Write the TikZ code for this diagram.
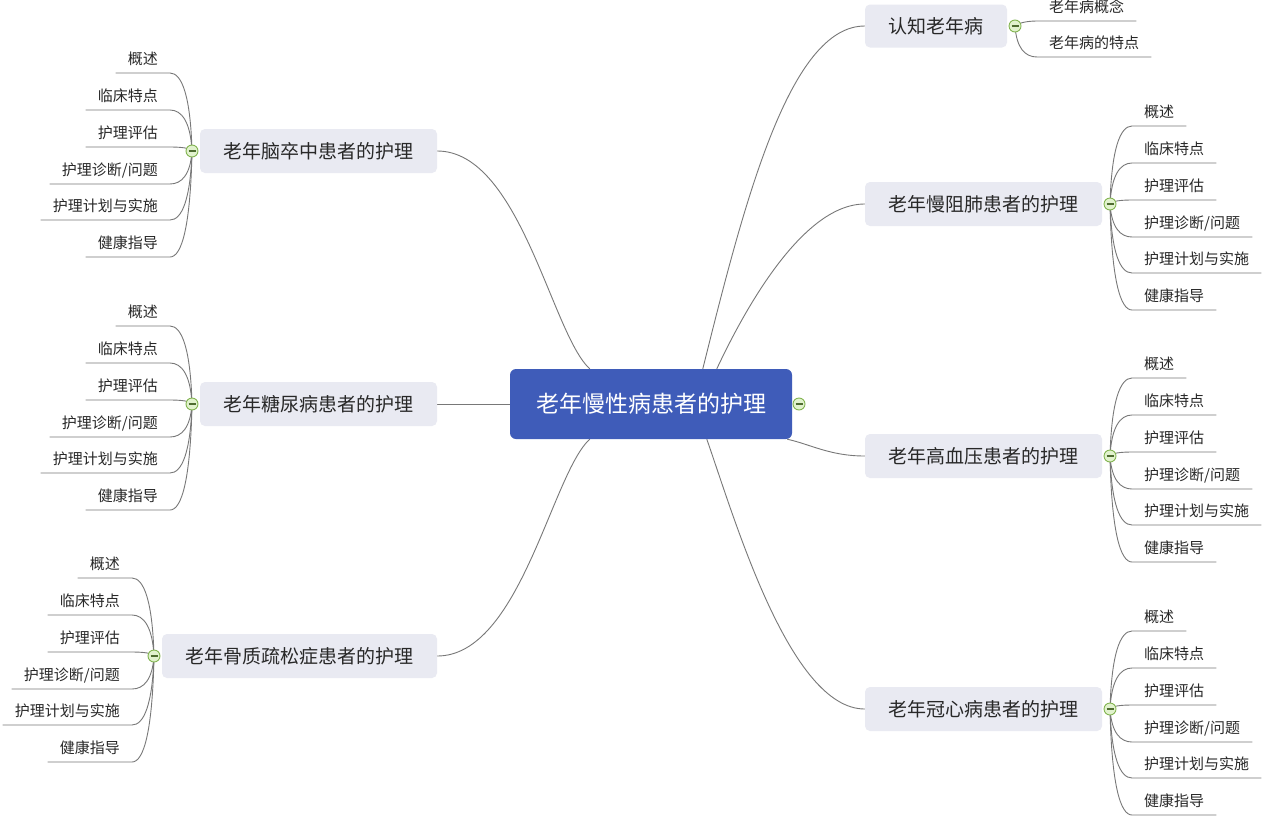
\documentclass[tikz,border=0pt]{standalone}
\usepackage{fontspec}
\newfontfamily\cjk{Noto Sans CJK SC}
\usetikzlibrary{calc}
\definecolor{linegray}{RGB}{120,120,120}
\definecolor{topicfill}{RGB}{233,234,242}
\definecolor{centralblue}{RGB}{63,92,185}
\definecolor{textgray}{RGB}{40,40,40}
\definecolor{folddraw}{RGB}{130,180,80}
\definecolor{foldfill}{RGB}{225,242,205}
\pgfdeclarelayer{bg}
\pgfdeclarelayer{paper}
\pgfsetlayers{paper,bg,main}
\newcommand\leavesR[2]{%
  \foreach \t/\d [count=\i] in {概述/-78,临床特点/-41,护理评估/-4,{护理诊断/问题}/33,护理计划与实施/69,健康指导/106}{
    \node[leafR] (#1\i) at ($(#2)+(22,\d)$) {\t};
    \begin{pgfonlayer}{bg}
    \draw[ln] (#2.center) .. controls +(1.5,{0.7*(\d)}) and +(-12,0) .. (#1\i.south west) -- (#1\i.south east);
    \end{pgfonlayer}
  }}
\newcommand\leavesL[2]{%
  \foreach \t/\d [count=\i] in {概述/-78,临床特点/-41,护理评估/-4,{护理诊断/问题}/33,护理计划与实施/69,健康指导/106}{
    \node[leafL] (#1\i) at ($(#2)+(-22,\d)$) {\t};
    \begin{pgfonlayer}{bg}
    \draw[ln] (#2.center) .. controls +(-1.5,{0.7*(\d)}) and +(12,0) .. (#1\i.south east) -- (#1\i.south west);
    \end{pgfonlayer}
  }}
\begin{document}
\begin{tikzpicture}[x=1pt,y=-1pt,
  ln/.style={draw=linegray, line width=0.9pt},
  topic/.style={fill=topicfill, rounded corners=5pt, minimum height=44pt, inner sep=0pt, font=\cjk\fontsize{19}{19}\selectfont, text=textgray},
  central/.style={fill=centralblue, rounded corners=6pt, minimum width=282pt, minimum height=70pt, inner sep=0pt, font=\cjk\fontsize{23}{23}\selectfont, text=white},
  leafR/.style={anchor=south west, inner xsep=12pt, inner ysep=5pt, text height=12pt, text depth=3pt, font=\cjk\fontsize{15}{15}\selectfont, text=textgray},
  leafL/.style={leafR, anchor=south east},
  fold/.style={circle, draw=folddraw, fill=foldfill, line width=0.9pt, minimum size=12pt, inner sep=0pt,
    path picture={\draw[folddraw!60!black, line width=1.1pt] ([xshift=-3.5pt]path picture bounding box.center) -- ([xshift=3.5pt]path picture bounding box.center);}}
]
\begin{pgfonlayer}{paper}
\fill[white] (0,0) rectangle (1265,817);
\end{pgfonlayer}
\useasboundingbox (0,0) rectangle (1265,817);

% central
\node[central] (ctr) at (651,404) {老年慢性病患者的护理};
\node[fold] (fc) at (799,404) {};

% right topics
\node[topic, minimum width=142pt, minimum height=43pt] (t0) at (936,26) {认知老年病};
\node[topic, minimum width=237pt] (t1) at (983.5,204) {老年慢阻肺患者的护理};
\node[topic, minimum width=237pt] (t2) at (983.5,456) {老年高血压患者的护理};
\node[topic, minimum width=237pt] (t3) at (983.5,709) {老年冠心病患者的护理};
% left topics
\node[topic, minimum width=237pt] (s1) at (318.5,151) {老年脑卒中患者的护理};
\node[topic, minimum width=237pt] (s2) at (318.5,404) {老年糖尿病患者的护理};
\node[topic, minimum width=275pt] (s3) at (299.5,656) {老年骨质疏松症患者的护理};

% fold markers
\node[fold] (f0) at (1015,26) {};
\node[fold] (f1) at (1110,204) {};
\node[fold] (f2) at (1110,456) {};
\node[fold] (f3) at (1110,709) {};
\node[fold] (g1) at (192,151) {};
\node[fold] (g2) at (192,404) {};
\node[fold] (g3) at (154,656) {};

% connection points on central node
\coordinate (cA) at ($(ctr.north west)+(80,0)$);
\coordinate (cB) at ($(ctr.north west)+(193,0)$);
\coordinate (cC) at ($(ctr.north west)+(207,0)$);
\coordinate (cD) at ($(ctr.south west)+(80,0)$);
\coordinate (cE) at ($(ctr.south west)+(197,0)$);
\coordinate (cF) at ($(ctr.south east)+(-5,0)$);

\begin{pgfonlayer}{bg}
\draw[ln] (s1.east) .. controls +(83,0) and +(-38,-34) .. (cA);
\draw[ln] (s2.east) -- (ctr.west);
\draw[ln] (s3.east) .. controls +(83,0) and +(-38,34) .. (cD);
\draw[ln] (t0.west) .. controls +(-75,0) and +(42,-169) .. (cB);
\draw[ln] (t1.west) .. controls +(-65,0) and +(23,-49) .. (cC);
\draw[ln] (t2.west) .. controls +(-35,0) and +(23,5) .. (cF);
\draw[ln] (t3.west) .. controls +(-75,0) and +(28,80) .. (cE);
\end{pgfonlayer}

% leaves of 认知老年病
\node[leafR] (k1) at ($(f0)+(22,-5)$) {老年病概念};
\node[leafR] (k2) at ($(f0)+(22,31)$) {老年病的特点};
\begin{pgfonlayer}{bg}
\draw[ln] (f0.center) .. controls +(3,-3) and +(-10,0) .. (k1.south west) -- (k1.south east);
\draw[ln] (f0.center) .. controls +(1.5,22) and +(-12,0) .. (k2.south west) -- (k2.south east);
\end{pgfonlayer}

\leavesR{r1}{f1}
\leavesR{r2}{f2}
\leavesR{r3}{f3}
\leavesL{l1}{g1}
\leavesL{l2}{g2}
\leavesL{l3}{g3}
\end{tikzpicture}
\end{document}
